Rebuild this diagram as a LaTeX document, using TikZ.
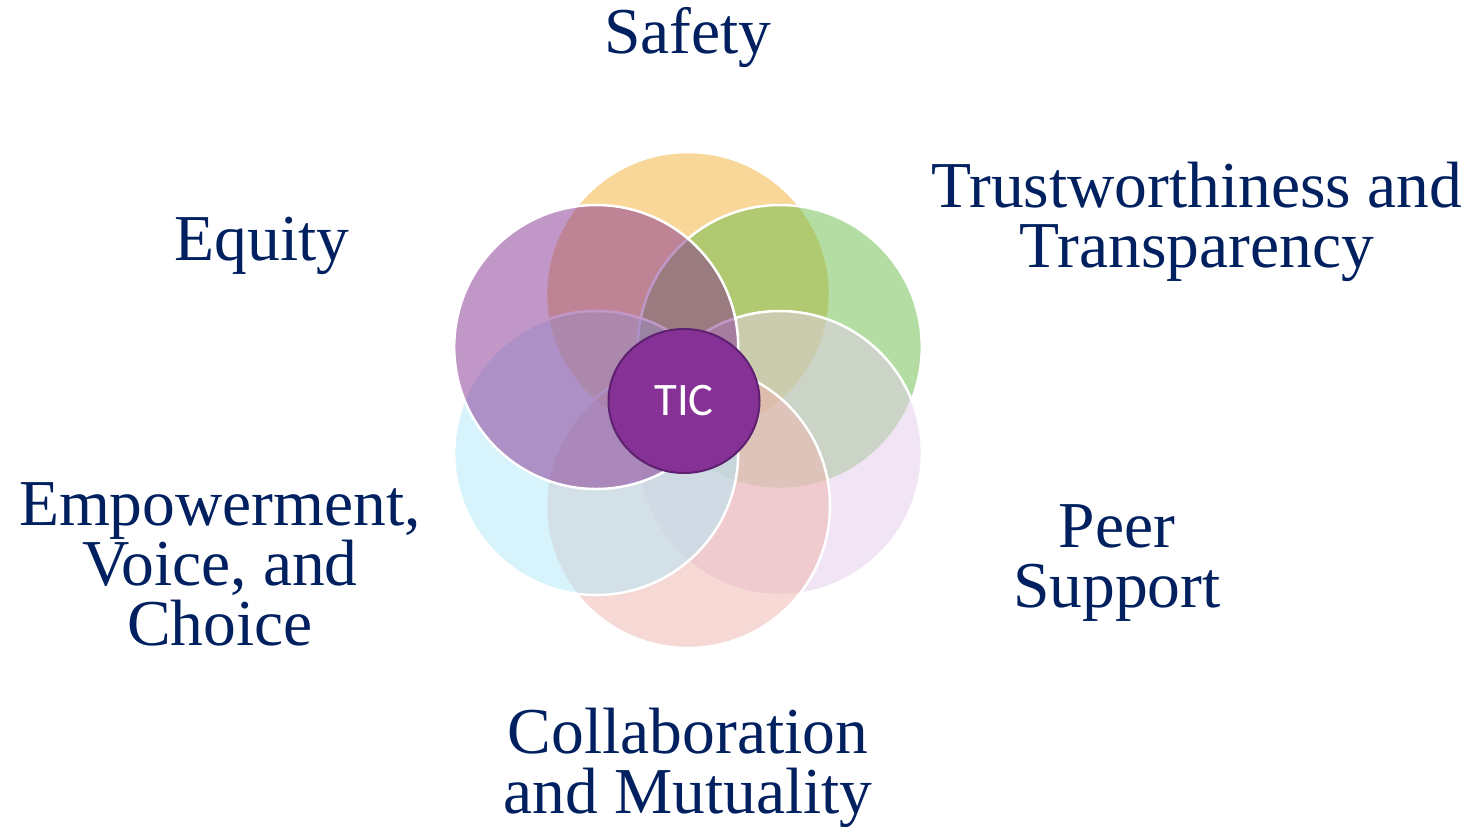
\documentclass[tikz,border=0pt]{standalone}
\usepackage{fontspec}
\setmainfont{Liberation Serif}
\newfontfamily\ticfont{Carlito}
\usetikzlibrary{shapes.geometric}
\definecolor{navy}{HTML}{002060}
\definecolor{cyel}{HTML}{F3B133}
\definecolor{cgrn}{HTML}{6BBD49}
\definecolor{clav}{HTML}{E5CDED}
\definecolor{cpnk}{HTML}{EFB3AB}
\definecolor{ccyn}{HTML}{B1E9FB}
\definecolor{cpur}{HTML}{853191}
\definecolor{ticfill}{HTML}{853195}
\definecolor{ticedge}{HTML}{5E2070}
\newcommand{\lblines}[2]{\vtop{\baselineskip=#1\lineskiplimit=-100pt\halign{\hfil##\hfil\cr#2\crcr}}}
\begin{document}
\begin{tikzpicture}[x=0.5pt,y=-0.5pt,
  circ/.style={fill opacity=0.5, draw=white, draw opacity=1, line width=1.25pt},
  lbl/.style={anchor=base, inner sep=0pt, text=navy, font=\fontsize{32.75}{30}\selectfont},
  ticnode/.style={ellipse, draw=ticedge, fill=ticfill, line width=1pt, inner sep=0pt,
    minimum width=75.5pt, minimum height=72pt, text=white, font=\ticfont\fontsize{23.3}{26}\selectfont}]
\fill[white] (0,0) rectangle (1473,826);
\useasboundingbox (0,0) rectangle (1473,826);
% circles (drawing order matters)
\path[circ, fill=cyel] (688,294) circle[radius=71pt];
\path[circ, fill=cgrn] (779.8,347) circle[radius=71pt];
\path[circ, fill=clav] (779.8,453) circle[radius=71pt];
\path[circ, fill=cpnk] (688,506) circle[radius=71pt];
\path[circ, fill=ccyn] (596.2,453) circle[radius=71pt];
\path[circ, fill=cpur] (596.2,347) circle[radius=71pt];
% centre
\node[ticnode] (tic) at (684,401) {TIC};
% labels
\node[lbl] (safety) at (688,53) {Safety};
\node[lbl] (trust) at (1197,207) {\lblines{30pt}{Trustworthiness and\cr Transparency}};
\node[lbl] (equity) at (262,260) {Equity};
\node[lbl] (emp) at (220,525) {\lblines{30pt}{Empowerment,\cr Voice, and\cr Choice}};
\node[lbl] (peer) at (1117,547) {\lblines{30pt}{Peer\cr Support}};
\node[lbl] (col) at (688,753) {\lblines{30pt}{Collaboration\cr and Mutuality}};
\end{tikzpicture}
\end{document}
